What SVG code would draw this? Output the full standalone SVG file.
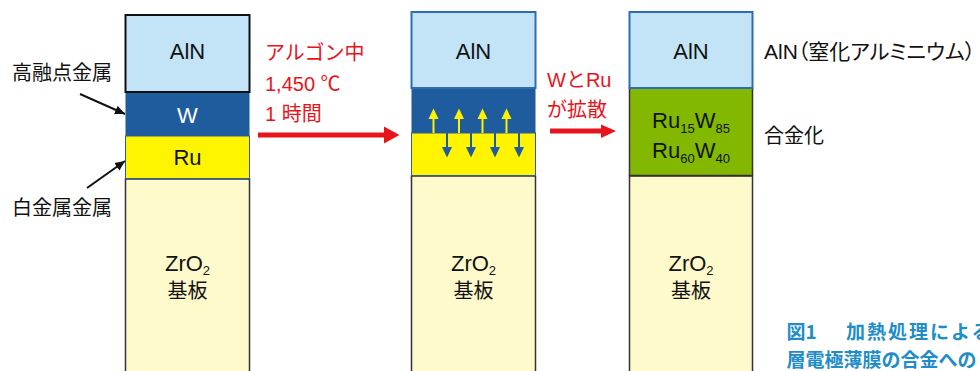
<svg xmlns="http://www.w3.org/2000/svg" width="980" height="371" viewBox="0 0 980 371">
<defs>
<style>
.t{font-family:"Liberation Sans","Noto Sans CJK JP",sans-serif;fill:#111;}
.big{font-size:22px;}
.jp{font-size:20px;}
.red{fill:#E8141B;}
.aln{fill:#C3E4F7;}
.w{fill:#1F5C9E;}
.ru{fill:#FFF500;stroke:#2F5F9F;stroke-width:1;}
.sub{fill:#FFFACB;stroke:#333;stroke-width:1.5;}
.palt{font-family:"Noto Sans CJK JP",sans-serif;font-feature-settings:"palt" 1;}
.cap{font-family:"Noto Sans CJK JP","Liberation Sans",sans-serif;font-size:19px;font-weight:bold;fill:#1E8DC8;}
</style>
<marker id="ah" viewBox="0 0 10 10" refX="10" refY="5" markerWidth="10" markerHeight="10" markerUnits="userSpaceOnUse" orient="auto">
<path d="M0,0.5 L10,5 L0,9.5 Z" fill="#111"/>
</marker>
</defs>
<rect width="980" height="371" fill="#fff"/>

<g id="stack1">
<rect class="sub" x="125.5" y="179" width="124" height="210"/>
<rect class="ru" x="125.5" y="136" width="124" height="42.5"/>
<rect class="w" x="125.5" y="92" width="124" height="44"/>
<rect class="aln" x="125.5" y="15" width="124" height="77" stroke="#111" stroke-width="2"/>
<text class="t big" x="187.5" y="59" text-anchor="middle">AlN</text>
<text class="t big" x="187.5" y="122.5" text-anchor="middle" style="fill:#fff">W</text>
<text class="t big" x="187.5" y="165" text-anchor="middle">Ru</text>
<text class="t big" x="187.5" y="270.5" text-anchor="middle">ZrO<tspan font-size="13" dy="4">2</tspan></text>
<text class="t jp" x="187.5" y="298" text-anchor="middle">基板</text>
</g>

<g id="stack2">
<rect class="sub" x="411.5" y="176" width="124" height="210"/>
<rect class="ru" x="411.5" y="133" width="124" height="42.5"/>
<rect class="w" x="411.5" y="88" width="124" height="45"/>
<rect class="aln" x="411.5" y="12" width="124" height="76" stroke="#2E6DB4" stroke-width="2"/>
<text class="t big" x="473.5" y="59" text-anchor="middle">AlN</text>
<text class="t big" x="473.5" y="270.5" text-anchor="middle">ZrO<tspan font-size="13" dy="4">2</tspan></text>
<text class="t jp" x="473.5" y="298" text-anchor="middle">基板</text>
<g id="diffusion">
<g stroke="#FFF200" stroke-width="2" fill="#FFF200">
<line x1="433.5" y1="133" x2="433.5" y2="118"/><polygon points="428.5,119 433.5,108.5 438.5,119" stroke="none"/>
<line x1="459" y1="133" x2="459" y2="118"/><polygon points="454,119 459,108.5 464,119" stroke="none"/>
<line x1="482.5" y1="133" x2="482.5" y2="118"/><polygon points="477.5,119 482.5,108.5 487.5,119" stroke="none"/>
<line x1="506.5" y1="133" x2="506.5" y2="118"/><polygon points="501.5,119 506.5,108.5 511.5,119" stroke="none"/>
</g>
<g stroke="#1F5C9E" stroke-width="2" fill="#1F5C9E">
<line x1="447" y1="133" x2="447" y2="148"/><polygon points="442,147 447,157.5 452,147" stroke="none"/>
<line x1="471" y1="133" x2="471" y2="148"/><polygon points="466,147 471,157.5 476,147" stroke="none"/>
<line x1="495" y1="133" x2="495" y2="148"/><polygon points="490,147 495,157.5 500,147" stroke="none"/>
<line x1="519" y1="133" x2="519" y2="148"/><polygon points="514,147 519,157.5 524,147" stroke="none"/>
</g>
</g>
</g>

<g id="stack3">
<rect class="sub" x="629.5" y="176" width="123" height="210"/>
<rect x="629.5" y="88" width="123" height="87.5" fill="#82B800" stroke="#333" stroke-width="1.5"/>
<rect class="aln" x="629.5" y="12" width="123" height="76" stroke="#2E6DB4" stroke-width="2"/>
<text class="t big" x="691" y="59" text-anchor="middle">AlN</text>
<text class="t big" x="691" y="128" text-anchor="middle">Ru<tspan font-size="13" dy="5">15</tspan><tspan dy="-5">W</tspan><tspan font-size="13" dy="5">85</tspan></text>
<text class="t big" x="691" y="158" text-anchor="middle">Ru<tspan font-size="13" dy="5">60</tspan><tspan dy="-5">W</tspan><tspan font-size="13" dy="5">40</tspan></text>
<text class="t big" x="691" y="270.5" text-anchor="middle">ZrO<tspan font-size="13" dy="4">2</tspan></text>
<text class="t jp" x="691" y="298" text-anchor="middle">基板</text>
</g>

<g id="labels">
<text class="t jp" x="12" y="80">高融点金属</text>
<text class="t jp" x="12" y="215">白金属金属</text>
<text class="t jp red" x="265" y="60">アルゴン中</text>
<text class="t jp red" x="265" y="91">1,450 ℃</text>
<text class="t jp red" x="265" y="121">1 時間</text>
<text class="t jp red" x="547" y="87">WとRu</text>
<text class="t jp red" x="547" y="117">が拡散</text>
<text class="t jp" x="764" y="59" font-size="21" style="font-size:21px">AlN<tspan class="palt">（窒化アルミニウム）</tspan></text>
<text class="t jp" x="764" y="143">合金化</text>
<text class="cap" x="786.5" y="339">図1</text>
<text class="cap" x="846" y="339" letter-spacing="2">加熱処理による</text>
<text class="cap" x="786.5" y="367">層電極薄膜の合金への</text>
</g>

<g id="connectors">
<line x1="80" y1="94" x2="125" y2="114" stroke="#111" stroke-width="2" marker-end="url(#ah)"/>
<line x1="87" y1="188" x2="125" y2="161" stroke="#111" stroke-width="2" marker-end="url(#ah)"/>
<polygon points="258,132.5 384,132.5 384,126.5 399.5,135 384,143.5 384,137.5 258,137.5" fill="#E8141B"/>
<polygon points="550,128.5 601,128.5 601,124.5 616,131 601,138 601,133.5 550,133.5" fill="#E8141B"/>
</g>
</svg>
